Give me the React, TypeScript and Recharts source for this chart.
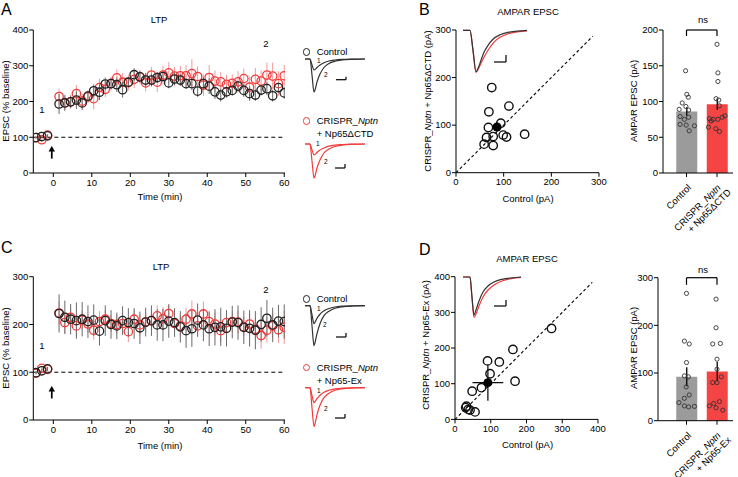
import React from 'react';
import {
  ComposedChart,
  LineChart,
  Line,
  Scatter,
  Bar,
  Cell,
  XAxis,
  YAxis,
  ErrorBar,
  ReferenceLine,
  ReferenceDot,
} from 'recharts';

const RED = '#f23b3b';
const RED_ERR = '#f59a9a';
const GRAY_ERR = '#6a6a6a';
const BAR_GRAY = '#9b9b9b';
const BAR_RED = '#f54444';
const FONT = '"Liberation Sans", Arial, Helvetica, sans-serif';
const FS = 9.5;

// ---- LTP time course (min, % baseline) ----
const ltpTimes = [
  -4.5, -3, -1.5, 1.5, 3, 4.5, 6, 7.5, 9, 10.5, 12, 13.5, 15, 16.5, 18, 19.5, 21, 22.5, 24, 25.5, 27,
  28.5, 30, 31.5, 33, 34.5, 36, 37.5, 39, 40.5, 42, 43.5, 45, 46.5, 48, 49.5, 51, 52.5, 54, 55.5, 57,
  58.5, 60,
];
const ltpTicks = [0, 10, 20, 30, 40, 50, 60];

const ltpA_ctrl = [
  99, 102, 104, 193, 196, 199, 204, 196, 215, 230, 226, 249, 250, 247, 233, 254, 275, 269, 260, 260, 267,
  270, 252, 263, 260, 250, 250, 229, 250, 243, 227, 218, 227, 231, 243, 231, 222, 218, 232, 236, 216,
  239, 224,
];
const ltpA_ctrlErr = [
  3, 3, 3, 28, 22, 18, 25, 20, 15, 18, 22, 18, 15, 20, 22, 15, 18, 16, 20, 18, 15, 14, 15, 18, 16, 15,
  18, 16, 18, 22, 20, 18, 16, 14, 15, 18, 20, 16, 15, 18, 16, 14, 16,
];
const ltpA_red = [
  99, 93, 106, 214, 196, 199, 222, 201, 213, 208, 239, 234, 250, 266, 254, 253, 262, 269, 252, 274, 254,
  274, 280, 271, 272, 272, 278, 270, 246, 267, 257, 255, 248, 251, 255, 264, 240, 262, 257, 274, 271,
  250, 272,
];
const ltpA_redErr = [
  3, 5, 3, 22, 20, 18, 24, 20, 18, 30, 25, 22, 20, 24, 26, 22, 25, 20, 24, 22, 28, 26, 30, 26, 28, 30,
  40, 28, 30, 35, 30, 28, 26, 25, 30, 28, 30, 32, 30, 35, 38, 34, 30,
];

const ltpC_ctrl = [
  99, 103, 107, 223, 215, 211, 208, 211, 206, 209, 186, 208, 200, 197, 208, 204, 202, 193, 205, 208, 199,
  199, 207, 204, 195, 187, 191, 209, 199, 191, 194, 195, 192, 205, 204, 194, 192, 188, 200, 213, 199,
  207, 206,
];
const ltpC_ctrlErr = [
  3, 4, 4, 40, 35, 32, 38, 36, 34, 33, 30, 32, 30, 28, 30, 30, 32, 34, 30, 32, 33, 34, 35, 30, 33, 36,
  38, 35, 34, 36, 38, 40, 38, 34, 36, 35, 38, 40, 36, 38, 36, 34, 36,
];
const ltpC_red = [
  98, 108, 106, 224, 204, 215, 197, 209, 201, 188, 206, 211, 202, 200, 202, 185, 211, 199, 205, 208, 218,
  212, 223, 202, 197, 211, 222, 197, 222, 206, 201, 187, 204, 206, 205, 195, 201, 190, 177, 188, 197,
  189, 194,
];
const ltpC_redErr = [
  3, 4, 4, 25, 22, 20, 22, 20, 18, 20, 22, 20, 18, 20, 20, 22, 20, 22, 20, 18, 22, 24, 20, 20, 22, 24,
  28, 20, 26, 22, 24, 25, 20, 22, 24, 20, 22, 24, 28, 26, 26, 28, 35,
];

// ---- example EPSC traces (arbitrary units) ----
const traceT = [3, 8, 10, 12, 13, 15, 18, 22, 27, 33, 40, 50, 63];
const trA_ctrl1 = [0, 0, -6, -11, -10.5, -8.5, -6, -3.8, -2, -1, -0.4, -0.1, 0];
const trA_ctrl2 = [0, 0, -16, -33, -31, -23, -15, -8.5, -4.5, -2.2, -1, -0.3, 0];
const trA_red1 = [0, 0, -6, -11, -10.5, -8.5, -6, -4, -2.2, -1.1, -0.5, -0.1, 0];
const trA_red2 = [0, 0, -17, -34, -32, -24, -16, -9, -5, -2.5, -1.1, -0.3, 0];
const trC_ctrl1 = [0, 0, -9, -18, -16.5, -12.5, -8.5, -5, -2.8, -1.3, -0.5, -0.1, 0];
const trC_ctrl2 = [0, 0, -20, -40, -37, -28, -18, -10, -5.5, -2.6, -1.1, -0.3, 0];
const trC_red1 = [0, 0, -8, -15, -14, -11, -7.5, -4.5, -2.5, -1.2, -0.5, -0.1, 0];
const trC_red2 = [0, 0, -20, -39, -36, -27, -17.5, -10, -5.5, -2.6, -1.1, -0.3, 0];

const ampaT_B = [3, 10, 13, 16, 18, 21, 24, 28, 33, 40, 48, 57, 67];
const ampaB_ctrl = [0, 0, -20, -41.5, -38, -30, -22, -15, -9, -4.5, -2, -0.8, 0];
const ampaB_red = [0, 0, -20, -42, -39.5, -33, -27, -20, -13, -7, -3.5, -1.5, -0.5];
const ampaT_D = [3, 10, 12, 14, 16, 19, 23, 28, 34, 42, 52, 61];
const ampaD_ctrl = [0, 0, -20, -38, -33, -24, -15, -9, -5, -2.3, -0.8, 0];
const ampaD_red = [0, 0, -21, -40.5, -37, -29, -20, -13, -8, -4, -1.5, -0.3];

// ---- AMPAR EPSC scatter (pA) ----
const scatB_ctrl = [75, 69, 111, 94, 68, 78, 64, 59, 78, 99, 106, 144];
const scatB_exp = [179, 128, 140, 104, 95, 76, 74, 60, 57, 79, 75, 81];
const scatB_mean = { x: 86, y: 96, ex: 8, ey: 10 };
const scatD_ctrl = [270, 162, 168, 91, 124, 98, 74, 48, 32, 37, 42, 56, 30];
const scatD_exp = [255, 196, 107, 164, 161, 128, 89, 79, 37, 28, 26, 21, 33];
const scatD_mean = { x: 92, y: 103, ex: 43, ey: 51 };

// ---- bar graphs ----
const barNames = ['Control', 'CRISPR'];
const barB_mean = [86, 96];
const barB_sem = [6, 8];
const barD_mean = [92, 103];
const barD_sem = [20, 20];

const dotsB_ctrlX = [-0.03, 0.01, 0.06, -0.14, -0.02, -0.24, 0.07, -0.21, -0.07, 0.07, -0.21, -0.01, 0.26, 0.09];
const dotsB_ctrlY = [143, 110, 106, 98, 93, 89, 88, 79, 75, 78, 68, 67, 66, 59];
const dotsB_redX = [1.0, 1.03, 1.03, 0.97, 1.06, 1.08, 0.75, 0.88, 1.03, 1.17, 1.26, 0.72, 0.96, 1.08, 0.81];
const dotsB_redY = [180, 140, 128, 104, 102, 94, 76, 75, 75, 78, 80, 64, 62, 58, 73];
const dotsD_ctrlX = [0.0, -0.07, 0.09, 0.0, -0.07, 0.06, -0.01, 0.09, -0.07, -0.25, -0.07, 0.07, 0.26];
const dotsD_ctrlY = [267, 167, 161, 122, 94, 92, 71, 54, 47, 38, 31, 29, 30];
const dotsD_redX = [0.97, 0.97, 0.86, 1.11, 1.0, 1.0, 0.86, 1.0, 1.14, 0.75, 0.89, 1.08, 1.19, 0.97];
const dotsD_redY = [255, 195, 161, 162, 129, 108, 80, 80, 92, 31, 36, 40, 22, 27];

const tickStyle = { fontSize: FS, fill: '#000', fontFamily: FONT };

const ring = (color: string, r: number, sw: number) => (p: any) =>
  p.cx == null ? <g /> : <circle cx={p.cx} cy={p.cy} r={r} fill="none" stroke={color} strokeWidth={sw} />;

const dot = (color: string, r: number) => (p: any) =>
  p.cx == null ? <g /> : <circle cx={p.cx} cy={p.cy} r={r} fill={color} />;

const arrowShape = (p: any) => (
  <g>
    <line x1={p.cx} y1={p.cy + 6} x2={p.cx} y2={p.cy - 2} stroke="#000" strokeWidth={1.7} />
    <path d={`M${p.cx - 3.2},${p.cy - 1} L${p.cx},${p.cy - 6.5} L${p.cx + 3.2},${p.cy - 1} Z`} fill="#000" />
  </g>
);

// text placed by its baseline
function T({ x, y, size = FS, color = '#000', center = false, italic = false, children }: any) {
  return (
    <div
      style={{
        position: 'absolute',
        left: x,
        top: y - 0.846 * size,
        fontSize: size,
        lineHeight: 1,
        color,
        fontStyle: italic ? 'italic' : 'normal',
        whiteSpace: 'nowrap',
        transform: center ? 'translateX(-50%)' : undefined,
      }}
    >
      {children}
    </div>
  );
}

// vertical axis title centred at (x, y)
function VTitle({ x, y, children }: any) {
  return (
    <div
      style={{
        position: 'absolute',
        left: x,
        top: y,
        fontSize: FS,
        lineHeight: 1,
        whiteSpace: 'nowrap',
        transform: 'translate(-50%, -50%) rotate(-90deg)',
      }}
    >
      {children}
    </div>
  );
}

function LegendRing({ x, y, color }: any) {
  return (
    <div
      style={{
        position: 'absolute',
        left: x - 3.6,
        top: y - 3.6,
        width: 7.2,
        height: 7.2,
        border: `1.3px solid ${color}`,
        borderRadius: '50%',
        boxSizing: 'border-box',
      }}
    />
  );
}

function TimeCourse({ top, height, marginTop, yMax, yTicks, ctrl, ctrlErr, red, redErr, arrowY }: any) {
  const ctrlData = ltpTimes.map((t, i) => ({ t, v: ctrl[i], e: ctrlErr[i] }));
  const redData = ltpTimes.map((t, i) => ({ t, v: red[i], e: redErr[i] }));
  return (
    <div style={{ position: 'absolute', left: 0, top }}>
      <ComposedChart width={300} height={height} margin={{ top: marginTop, right: 15, bottom: 2, left: 0 }}>
        <XAxis
          type="number"
          dataKey="t"
          domain={[-5.2, 60.2]}
          ticks={ltpTicks}
          allowDataOverflow
          height={30}
          tickSize={4}
          tickMargin={2}
          tick={tickStyle}
          stroke="#000"
        />
        <YAxis
          type="number"
          domain={[0, yMax]}
          ticks={yTicks}
          width={33.3}
          tickSize={4}
          tickMargin={1}
          tick={tickStyle}
          stroke="#000"
        />
        <ReferenceLine y={100} stroke="#000" strokeDasharray="4 3" strokeWidth={1} />
        <ReferenceDot x={-0.4} y={arrowY} r={0} shape={arrowShape} ifOverflow="visible" />
        <Scatter data={redData} dataKey="v" shape={ring(RED, 4.2, 1.3)} isAnimationActive={false}>
          <ErrorBar dataKey="e" direction="y" width={0} stroke={RED_ERR} strokeWidth={1} />
        </Scatter>
        <Scatter data={ctrlData} dataKey="v" shape={ring('#222', 4.2, 1.3)} isAnimationActive={false}>
          <ErrorBar dataKey="e" direction="y" width={0} stroke={GRAY_ERR} strokeWidth={1} />
        </Scatter>
      </ComposedChart>
    </div>
  );
}

function Trace({ left, top, width, height, yMin, yMax, time, series, bar }: any) {
  const data = time.map((t: number, i: number) => {
    const row: any = { t };
    series.forEach((s: any, k: number) => (row['s' + k] = s.values[i]));
    return row;
  });
  return (
    <div style={{ position: 'absolute', left, top }}>
      <LineChart width={width} height={height} data={data} margin={{ top: 0, right: 0, bottom: 0, left: 0 }}>
        <XAxis type="number" dataKey="t" domain={[0, width]} hide />
        <YAxis type="number" domain={[yMin, yMax]} hide allowDataOverflow />
        {series.map((s: any, k: number) => (
          <Line
            key={k}
            dataKey={'s' + k}
            stroke={s.color}
            strokeWidth={1.2}
            dot={false}
            type="monotone"
            isAnimationActive={false}
          />
        ))}
        <ReferenceLine
          segment={[{ x: bar.x0, y: bar.y }, { x: bar.x1, y: bar.y }]}
          stroke="#000"
          strokeWidth={1.2}
          ifOverflow="visible"
        />
        <ReferenceLine
          segment={[{ x: bar.x1, y: bar.y }, { x: bar.x1, y: bar.y + bar.h }]}
          stroke="#000"
          strokeWidth={1.2}
          ifOverflow="visible"
        />
      </LineChart>
    </div>
  );
}

function XYPanel({ top, marginTop, yAxisW, right, max, ticks, xs, ys, mean, diag }: any) {
  const pts = xs.map((x: number, i: number) => ({ x, y: ys[i] }));
  const height = marginTop + 142.7 + 32;
  return (
    <div style={{ position: 'absolute', left: 400, top }}>
      <ComposedChart width={210} height={height} margin={{ top: marginTop, right, bottom: 2, left: 0 }}>
        <XAxis
          type="number"
          dataKey="x"
          domain={[0, max]}
          ticks={ticks}
          allowDataOverflow
          height={30}
          tickSize={4}
          tickMargin={2}
          tick={tickStyle}
          stroke="#000"
        />
        <YAxis
          type="number"
          domain={[0, max]}
          ticks={ticks}
          allowDataOverflow
          width={yAxisW}
          tickSize={4}
          tickMargin={1}
          tick={tickStyle}
          stroke="#000"
        />
        <ReferenceLine
          segment={[{ x: 0, y: 0 }, { x: diag, y: diag }]}
          stroke="#000"
          strokeDasharray="3 2.5"
          strokeWidth={1.1}
        />
        <Scatter data={pts} dataKey="y" shape={ring('#111', 4.2, 1.4)} isAnimationActive={false} />
        <Scatter data={[mean]} dataKey="y" shape={dot('#000', 4.5)} isAnimationActive={false}>
          <ErrorBar dataKey="ex" direction="x" width={0} stroke="#000" strokeWidth={1.2} />
          <ErrorBar dataKey="ey" direction="y" width={0} stroke="#000" strokeWidth={1.2} />
        </Scatter>
      </ComposedChart>
    </div>
  );
}

const BarTick = ({ x, y, payload, second }: any) => {
  if (payload.value === 'Control') {
    return (
      <g transform={`translate(${x + 3},${y + 7})`}>
        <text transform="rotate(-45)" textAnchor="end" dy="0.35em" fontSize={FS} fill="#000" fontFamily={FONT}>
          Control
        </text>
      </g>
    );
  }
  return (
    <g transform={`translate(${x + 3},${y + 8})`}>
      <text transform="rotate(-45)" textAnchor="end" fontSize={FS} fill="#000" fontFamily={FONT}>
        <tspan x={0} dy="0.2em">
          CRISPR_<tspan fontStyle="italic">Nptn</tspan>
        </tspan>
        <tspan x={4} dy="1.1em">
          {second}
        </tspan>
      </text>
    </g>
  );
};

function BarPanel({ top, marginTop, yAxisW, yMax, yTicks, means, sems, cx, cy, rx, ry, drop, second }: any) {
  const plotLeft = 600 + yAxisW;
  const padLeft = 686.5 - 15.25 - plotLeft;
  const bars = barNames.map((name, i) => ({ name, mean: means[i], sem: sems[i] }));
  const ctrlDots = cx.map((x: number, i: number) => ({ x, v: cy[i] }));
  const redDots = rx.map((x: number, i: number) => ({ x, v: ry[i] }));
  const numDomain = [(plotLeft - 686.5) / 30.5, (733 - 686.5) / 30.5];
  const height = marginTop + 143 + 62;
  return (
    <div style={{ position: 'absolute', left: 600, top }}>
      <ComposedChart width={140} height={height} data={bars} margin={{ top: marginTop, right: 7, bottom: 0, left: 0 }}>
        <XAxis
          dataKey="name"
          type="category"
          padding={{ left: padLeft, right: 0.75 }}
          height={62}
          tickSize={4}
          interval={0}
          tick={<BarTick second={second} />}
          stroke="#000"
        />
        <XAxis xAxisId="num" type="number" dataKey="x" domain={numDomain} allowDataOverflow hide />
        <YAxis
          type="number"
          domain={[0, yMax]}
          ticks={yTicks}
          width={yAxisW}
          tickSize={4}
          tickMargin={1}
          tick={tickStyle}
          stroke="#000"
        />
        <Bar dataKey="mean" barSize={21} isAnimationActive={false}>
          <Cell fill={BAR_GRAY} />
          <Cell fill={BAR_RED} />
          <ErrorBar dataKey="sem" direction="y" width={0} stroke="#000" strokeWidth={1.3} />
        </Bar>
        <Scatter xAxisId="num" data={ctrlDots} dataKey="v" shape={ring('#333', 2.1, 0.9)} isAnimationActive={false} />
        <Scatter xAxisId="num" data={redDots} dataKey="v" shape={ring('#333', 2.1, 0.9)} isAnimationActive={false} />
        <ReferenceLine xAxisId="num" segment={[{ x: 0, y: yMax }, { x: 1, y: yMax }]} stroke="#000" strokeWidth={1.2} ifOverflow="visible" />
        <ReferenceLine xAxisId="num" segment={[{ x: 0, y: yMax }, { x: 0, y: drop }]} stroke="#000" strokeWidth={1.2} ifOverflow="visible" />
        <ReferenceLine xAxisId="num" segment={[{ x: 1, y: yMax }, { x: 1, y: drop }]} stroke="#000" strokeWidth={1.2} ifOverflow="visible" />
      </ComposedChart>
    </div>
  );
}

export default function App() {
  const italic = (s: string) => <i>{s}</i>;
  return (
    <div
      style={{
        position: 'absolute',
        left: 0,
        top: 0,
        width: 738,
        height: 477,
        background: '#fff',
        fontFamily: FONT,
        color: '#000',
        overflow: 'hidden',
      }}
    >
      {/* ---------- row 1 ---------- */}
      <TimeCourse
        top={0}
        height={205}
        marginTop={30}
        yMax={400}
        yTicks={[0, 100, 200, 300, 400]}
        ctrl={ltpA_ctrl}
        ctrlErr={ltpA_ctrlErr}
        red={ltpA_red}
        redErr={ltpA_redErr}
        arrowY={57}
      />
      <T x={1} y={16} size={16}>A</T>
      <T x={159} y={23} center>LTP</T>
      <T x={42} y={113} center>1</T>
      <T x={266} y={47} center>2</T>
      <VTitle x={6} y={101}>EPSC (% baseline)</VTitle>
      <T x={160} y={200} center>Time (min)</T>

      <LegendRing x={306.7} y={52} color="#222" />
      <T x={316.7} y={55}>Control</T>
      <Trace
        left={302}
        top={55.3}
        width={65}
        height={40}
        yMin={-36}
        yMax={4}
        time={traceT}
        series={[
          { values: trA_ctrl1, color: '#333' },
          { values: trA_ctrl2, color: '#333' },
        ]}
        bar={{ x0: 34, x1: 44, y: -20.7, h: 3 }}
      />
      <T x={317} y={63.3} size={6.5}>1</T>
      <T x={324} y={77.7} size={6.5}>2</T>
      <LegendRing x={306.7} y={121} color={RED} />
      <T x={316.7} y={124}>CRISPR_{italic('Nptn')}</T>
      <T x={316.7} y={137}>+ Np65ΔCTD</T>
      <Trace
        left={302}
        top={140}
        width={65}
        height={40}
        yMin={-36}
        yMax={4}
        time={traceT}
        series={[
          { values: trA_red1, color: RED },
          { values: trA_red2, color: RED },
        ]}
        bar={{ x0: 33, x1: 43, y: -24, h: 4 }}
      />
      <T x={316} y={146.7} size={6.5}>1</T>
      <T x={324} y={164} size={6.5}>2</T>

      <XYPanel
        top={0}
        marginTop={30}
        yAxisW={56}
        right={11}
        max={300}
        ticks={[0, 100, 200, 300]}
        xs={scatB_ctrl}
        ys={scatB_exp}
        mean={scatB_mean}
        diag={287}
      />
      <Trace
        left={460}
        top={26}
        width={70}
        height={50}
        yMin={-45.7}
        yMax={4.3}
        time={ampaT_B}
        series={[
          { values: ampaB_red, color: RED },
          { values: ampaB_ctrl, color: '#333' },
        ]}
        bar={{ x0: 34, x1: 46, y: -31.7, h: 7 }}
      />
      <T x={419} y={16} size={16}>B</T>
      <T x={528} y={15} center>AMPAR EPSC</T>
      <VTitle x={428} y={101}>CRISPR_{italic('Nptn')} + Np65ΔCTD (pA)</VTitle>
      <T x={528} y={202} center>Control (pA)</T>

      <BarPanel
        top={0}
        marginTop={30}
        yAxisW={63}
        yMax={200}
        yTicks={[0, 50, 100, 150, 200]}
        means={barB_mean}
        sems={barB_sem}
        cx={dotsB_ctrlX}
        cy={dotsB_ctrlY}
        rx={dotsB_redX}
        ry={dotsB_redY}
        drop={191.6}
        second="+ Np65ΔCTD"
      />
      <T x={703} y={23} center>ns</T>
      <VTitle x={634} y={101}>AMPAR EPSC (pA)</VTitle>

      {/* ---------- row 2 ---------- */}
      <TimeCourse
        top={230}
        height={222}
        marginTop={46.7}
        yMax={300}
        yTicks={[0, 100, 200, 300]}
        ctrl={ltpC_ctrl}
        ctrlErr={ltpC_ctrlErr}
        red={ltpC_red}
        redErr={ltpC_redErr}
        arrowY={57.6}
      />
      <T x={1} y={254} size={16}>C</T>
      <T x={161} y={270} center>LTP</T>
      <T x={42} y={349.3} center>1</T>
      <T x={266} y={293.3} center>2</T>
      <VTitle x={6} y={348}>EPSC (% baseline)</VTitle>
      <T x={160} y={449} center>Time (min)</T>

      <LegendRing x={306.7} y={299} color="#222" />
      <T x={316.7} y={302}>Control</T>
      <Trace
        left={302}
        top={302}
        width={65}
        height={46}
        yMin={-42.3}
        yMax={3.7}
        time={traceT}
        series={[
          { values: trC_ctrl1, color: '#333' },
          { values: trC_ctrl2, color: '#333' },
        ]}
        bar={{ x0: 34, x1: 44, y: -31.3, h: 4 }}
      />
      <T x={317} y={311} size={6.5}>1</T>
      <T x={323} y={327.7} size={6.5}>2</T>
      <LegendRing x={306.7} y={367.3} color={RED} />
      <T x={316.7} y={371}>CRISPR_{italic('Nptn')}</T>
      <T x={316.7} y={384.5}>+ Np65-Ex</T>
      <Trace
        left={302}
        top={384}
        width={65}
        height={46}
        yMin={-42.3}
        yMax={3.7}
        time={traceT}
        series={[
          { values: trC_red1, color: RED },
          { values: trC_red2, color: RED },
        ]}
        bar={{ x0: 33, x1: 43, y: -30.3, h: 4 }}
      />
      <T x={317} y={393.3} size={6.5}>1</T>
      <T x={324} y={411} size={6.5}>2</T>

      <XYPanel
        top={230}
        marginTop={46.7}
        yAxisW={55}
        right={12}
        max={400}
        ticks={[0, 100, 200, 300, 400]}
        xs={scatD_ctrl}
        ys={scatD_exp}
        mean={scatD_mean}
        diag={384}
      />
      <Trace
        left={460}
        top={273}
        width={70}
        height={50}
        yMin={-46}
        yMax={4}
        time={ampaT_D}
        series={[
          { values: ampaD_red, color: RED },
          { values: ampaD_ctrl, color: '#333' },
        ]}
        bar={{ x0: 34, x1: 46, y: -29, h: 6 }}
      />
      <T x={419} y={256} size={16}>D</T>
      <T x={527} y={261.7} center>AMPAR EPSC</T>
      <VTitle x={426} y={345}>CRISPR_{italic('Nptn')} + Np65-Ex (pA)</VTitle>
      <T x={527.5} y={448} center>Control (pA)</T>

      <BarPanel
        top={230}
        marginTop={47.7}
        yAxisW={58}
        yMax={300}
        yTicks={[0, 100, 200, 300]}
        means={barD_mean}
        sems={barD_sem}
        cx={dotsD_ctrlX}
        cy={dotsD_ctrlY}
        rx={dotsD_redX}
        ry={dotsD_redY}
        drop={285}
        second="+ Np65-Ex"
      />
      <T x={703} y={273.3} center>ns</T>
      <VTitle x={634} y={348}>AMPAR EPSC (pA)</VTitle>
    </div>
  );
}
